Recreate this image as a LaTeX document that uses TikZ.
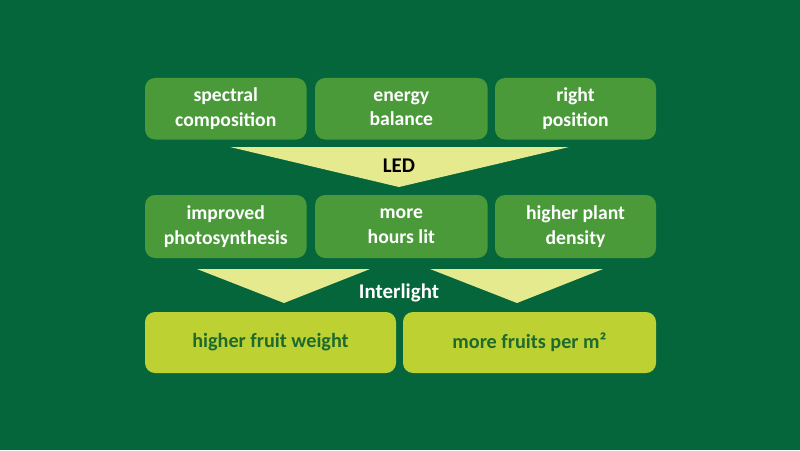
\documentclass[tikz,border=0pt]{standalone}
\usepackage{fontspec}
\setmainfont{Carlito}
\usetikzlibrary{positioning}
\definecolor{bggreen}{HTML}{04663A}
\definecolor{boxgreen}{HTML}{4A9A3A}
\definecolor{paleyellow}{HTML}{E6EA8F}
\definecolor{limegreen}{HTML}{BDD232}
\definecolor{darktext}{HTML}{1E6A2E}

\begin{document}
\begin{tikzpicture}[
        factor/.style={fill=boxgreen,rounded corners=0.2cm,minimum height=1.23cm,align=center,
            text=white,font=\fontsize{11.2}{14}\selectfont\bfseries,inner sep=0pt},
        result/.style={fill=limegreen,rounded corners=0.2cm,minimum height=1.22cm,align=center,
            text=darktext,font=\fontsize{11.5}{14}\selectfont\bfseries,inner sep=0pt},
        funnel/.style={fill=paleyellow},
        funnellabel/.style={font=\fontsize{11.9}{14}\selectfont\bfseries}]
        \fill[bggreen] (0,0) rectangle (16,9);
        \useasboundingbox (0,0) rectangle (16,9);

        % top row
        \node[factor,minimum width=3.23cm] (spectral) at (4.515,6.825) {spectral\\composition};
        \node[factor,minimum width=3.45cm] (energy) at (8.027,6.825) {energy\\balance};
        \node[factor,minimum width=3.22cm] (position) at (11.51,6.825) {right\\position};

        % LED funnel
        \coordinate (ledL) at (4.6,6.06);
        \coordinate (ledR) at (11.38,6.06);
        \coordinate (ledTip) at (7.98,5.26);
        \fill[funnel] (ledL) -- (ledR) -- (ledTip) -- cycle;
        \node[funnellabel,text=black] (led) at (7.98,5.68) {LED};

        % middle row
        \node[factor,minimum width=3.23cm,minimum height=1.26cm] (photo) at (4.515,4.47) {improved\\photosynthesis};
        \node[factor,minimum width=3.45cm,minimum height=1.26cm] (hours) at (8.027,4.47) {more\\hours lit};
        \node[factor,minimum width=3.22cm,minimum height=1.26cm] (density) at (11.51,4.47) {higher plant\\density};

        % Interlight funnels
        \coordinate (lfL) at (3.94,3.62);
        \coordinate (lfR) at (7.4,3.62);
        \coordinate (lfTip) at (5.68,2.94);
        \coordinate (rfL) at (8.6,3.62);
        \coordinate (rfR) at (12.06,3.62);
        \coordinate (rfTip) at (10.34,2.94);
        \fill[funnel] (lfL) -- (lfR) -- (lfTip) -- cycle;
        \fill[funnel] (rfL) -- (rfR) -- (rfTip) -- cycle;
        \node[funnellabel,text=white] (interlight) at (7.98,3.14) {Interlight};

        % results
        \node[result,minimum width=5.02cm] (weight) at (5.41,2.15) {higher fruit weight};
        \node[result,minimum width=5.06cm] (fruits) at (10.59,2.15) {more fruits per m²};
    \end{tikzpicture}
\end{document}
